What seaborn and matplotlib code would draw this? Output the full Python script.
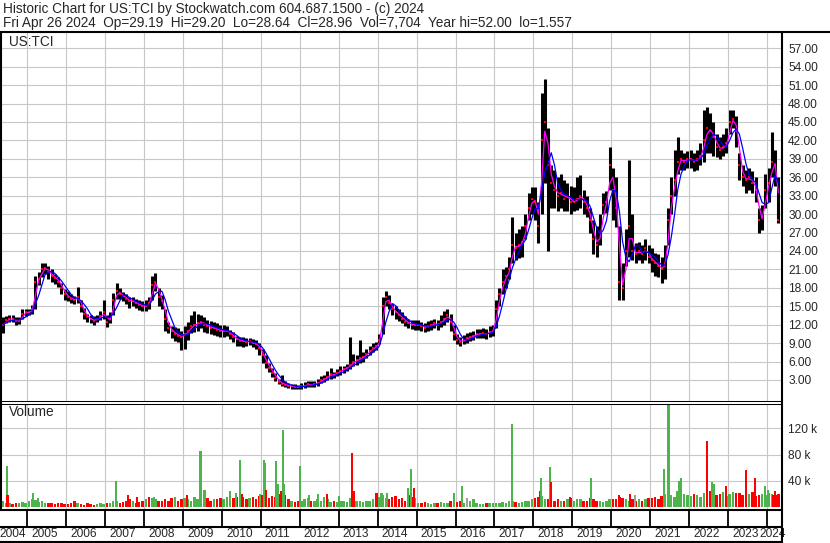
import numpy as np
import pandas as pd
import matplotlib
matplotlib.use("Agg")
import matplotlib.pyplot as plt
import seaborn as sns
from matplotlib.lines import Line2D

# Monthly price bars, May 2004 .. Apr 2024
month_close = [
    12.0, 12.8, 13.0, 12.9, 12.6, 12.6, 13.8, 14.0,                          # 2004 May-Dec
    14.0, 14.5, 19.0, 19.5, 21.0, 21.3, 20.5, 20.0, 19.6, 19.0, 18.0, 17.0,  # 2005
    16.5, 16.2, 16.0, 16.5, 15.0, 13.8, 13.2, 12.9, 12.6, 13.0, 13.4, 14.0,  # 2006
    12.5, 13.0, 16.0, 17.5, 17.0, 16.6, 16.2, 15.8, 15.8, 15.5, 15.2, 15.0,  # 2007
    15.0, 15.5, 18.5, 19.0, 16.5, 15.8, 13.0, 11.5, 11.0, 10.5, 10.2, 10.0,  # 2008
    10.5, 11.0, 11.8, 12.0, 12.2, 12.5, 12.0, 11.8, 11.5, 11.5, 11.2, 11.0,  # 2009
    11.0, 11.0, 10.5, 10.0, 9.6, 9.4, 9.3, 9.2, 9.3, 9.0, 8.8, 8.2,          # 2010
    7.0, 5.8, 5.0, 4.2, 3.3, 2.7, 2.4, 2.2, 2.0, 2.0, 1.9, 1.8,              # 2011
    2.0, 2.1, 2.3, 2.2, 2.3, 2.5, 3.0, 3.2, 3.5, 4.0, 3.8, 4.2,              # 2012
    4.5, 4.8, 5.0, 5.5, 6.0, 6.2, 6.5, 6.8, 7.2, 7.8, 8.2, 8.5,              # 2013
    9.5, 15.0, 16.5, 15.5, 14.5, 14.0, 13.5, 13.0, 12.5, 12.2, 12.0, 12.0,   # 2014
    12.0, 11.8, 11.5, 11.8, 12.0, 12.2, 12.0, 12.5, 13.0, 13.5, 12.5, 10.5,  # 2015
    9.5, 9.2, 9.5, 9.8, 10.0, 10.2, 10.5, 10.5, 10.6, 10.5, 10.8, 11.0,      # 2016
    14.5, 17.0, 19.0, 20.0, 21.0, 25.0, 24.5, 25.0, 25.5, 28.0, 31.0, 32.5,  # 2017
    32.0, 28.0, 42.0, 45.0, 38.0, 35.0, 34.0, 33.0, 33.5, 32.5, 33.0, 32.0,  # 2018
    32.0, 32.5, 33.0, 32.0, 31.0, 29.0, 26.0, 25.0, 27.0, 31.5, 32.0, 38.0,  # 2019
    34.0, 31.0, 19.0, 18.0, 24.0, 28.0, 24.0, 23.5, 24.0, 23.5, 24.5, 23.0,  # 2020
    22.5, 22.0, 21.5, 21.0, 22.0, 29.0, 33.0, 35.5, 38.5, 39.0, 38.5, 39.0,  # 2021
    39.0, 38.5, 39.0, 39.5, 42.0, 44.0, 43.5, 42.5, 41.0, 40.5, 41.0, 41.5,  # 2022
    45.0, 45.5, 43.5, 38.0, 36.0, 35.5, 36.0, 35.0, 34.0, 29.0, 29.5, 34.0,  # 2023
    35.0, 38.5, 38.0, 29.0,                                                  # 2024 Jan-Apr
]
month_low = [
    10.6, 12.2, 12.5, 12.4, 12.0, 12.1, 13.0, 13.4,
    13.5, 13.8, 14.5, 18.5, 19.8, 20.2, 19.5, 19.0, 18.6, 18.2, 17.0, 16.0,
    15.8, 15.6, 15.4, 15.5, 14.0, 13.0, 12.5, 12.3, 11.9, 12.4, 12.8, 13.0,
    11.6, 12.2, 13.5, 16.2, 16.2, 15.8, 15.3, 14.8, 15.0, 14.8, 14.4, 14.2,
    14.2, 14.5, 16.0, 17.5, 15.0, 14.5, 11.0, 10.6, 9.8, 9.4, 9.2, 7.9,
    8.0, 9.5, 10.6, 10.8, 11.0, 11.4, 10.8, 10.6, 10.5, 10.4, 10.2, 10.0,
    10.0, 10.2, 9.6, 9.2, 8.6, 8.6, 8.4, 8.5, 8.7, 8.3, 8.0, 7.0,
    5.8, 5.0, 4.3, 3.5, 2.8, 2.3, 2.0, 1.9, 1.7, 1.6, 1.6, 1.56,
    1.6, 1.7, 1.8, 1.8, 1.9, 2.0, 2.5, 2.7, 3.0, 3.2, 3.3, 3.6,
    3.8, 4.2, 4.4, 4.8, 5.2, 5.5, 5.8, 6.0, 6.5, 7.0, 7.6, 7.9,
    8.8, 10.5, 15.0, 14.5, 13.5, 13.0, 12.6, 12.2, 11.8, 11.5, 11.3, 11.2,
    11.2, 11.0, 10.8, 11.0, 11.2, 11.5, 11.2, 11.6, 12.0, 12.5, 11.0, 9.5,
    8.8, 8.5, 8.8, 9.0, 9.3, 9.5, 9.8, 9.8, 9.8, 9.7, 10.0, 10.2,
    11.5, 15.0, 17.0, 18.0, 19.5, 22.0, 22.5, 22.8, 23.0, 26.0, 29.0, 30.0,
    29.0, 25.3, 30.0, 35.0, 24.0, 31.0, 31.0, 30.5, 31.0, 30.5, 30.5, 30.0,
    30.5, 30.7, 31.0, 30.0, 29.5, 27.0, 23.5, 23.0, 25.0, 30.0, 30.2, 34.0,
    29.0, 27.9, 16.0, 16.0, 21.5, 23.0, 22.5, 22.0, 22.5, 22.0, 22.5, 22.0,
    20.5, 20.0, 19.8, 18.8, 19.5, 25.0, 30.0, 33.0, 36.5, 37.2, 37.2, 37.5,
    37.5, 37.0, 37.2, 38.0, 38.5, 40.0, 40.0, 39.5, 39.3, 39.0, 39.5, 40.0,
    43.0, 44.0, 41.0, 35.5, 34.5, 33.4, 34.0, 33.5, 32.0, 27.0, 27.4, 31.0,
    32.0, 36.0, 34.5, 28.6,
]
month_high = [
    13.2, 13.4, 13.6, 13.5, 13.2, 13.3, 14.5, 14.6,
    14.5, 15.2, 20.0, 20.6, 22.0, 22.1, 21.5, 21.0, 20.3, 19.8, 18.8, 17.8,
    17.5, 17.0, 16.6, 18.1, 16.0, 14.8, 13.8, 13.6, 13.4, 13.6, 14.2, 16.0,
    13.5, 14.0, 17.2, 18.8, 18.0, 17.4, 17.0, 16.5, 16.5, 16.2, 16.0, 15.8,
    16.0, 16.5, 20.0, 20.4, 18.0, 16.8, 14.5, 12.5, 11.8, 11.6, 11.4, 11.0,
    11.8, 12.5, 13.5, 14.3, 13.8, 13.6, 13.2, 12.8, 12.6, 12.4, 12.2, 12.0,
    12.0, 11.8, 11.2, 10.8, 10.2, 10.0, 10.0, 9.9, 9.9, 9.7, 9.5, 9.0,
    8.0, 7.0, 5.8, 5.0, 4.2, 3.2, 3.8, 2.8, 2.5, 2.4, 2.3, 2.2,
    2.5, 2.7, 2.9, 2.8, 2.8, 3.2, 3.6, 3.8, 4.4, 4.9, 4.3, 4.8,
    5.2, 5.3, 5.6, 10.0, 7.2, 7.0, 9.5, 7.5, 8.0, 8.6, 9.0, 9.2,
    10.5, 16.5, 17.5, 16.8, 15.5, 15.0, 14.5, 14.0, 13.4, 13.0, 12.8, 12.8,
    12.8, 12.5, 12.2, 12.6, 12.8, 13.0, 12.8, 13.5, 14.2, 14.5, 13.8, 12.0,
    10.5, 10.0, 10.3, 10.6, 10.8, 11.0, 11.3, 11.3, 11.5, 11.3, 11.8, 12.0,
    16.0, 18.0, 21.0, 21.4, 23.0, 29.5, 27.0, 27.5, 28.0, 30.0, 33.5, 34.4,
    34.4, 32.0, 49.7, 52.0, 44.0, 38.0, 37.2, 36.0, 36.5, 35.5, 35.0, 34.5,
    34.4, 36.0, 36.3, 34.0, 33.0, 31.0, 29.0, 28.0, 30.0, 33.4, 33.8, 41.0,
    37.5, 36.0, 28.0, 22.0, 27.5, 38.8, 30.0, 25.3, 25.5, 25.0, 26.0, 25.0,
    24.5, 23.7, 23.5, 23.0, 25.0, 31.0, 36.0, 40.4, 42.6, 40.4, 40.0, 40.3,
    40.4, 40.0, 40.5, 41.5, 47.0, 47.5, 46.5, 45.0, 43.0, 42.6, 43.0, 44.0,
    47.0, 47.0, 46.0, 40.0, 38.0, 37.2, 37.5, 37.0, 36.0, 31.0, 31.5, 36.5,
    37.5, 43.4, 40.5, 36.0,
]
# typical daily volume per month, thousands
month_volume = [
    9, 7, 6, 5, 7, 6, 8, 7,
    9, 13, 11, 8, 9, 6, 7, 6, 5, 7, 6, 5,
    5, 6, 9, 7, 5, 4, 6, 5, 4, 5, 6, 5,
    6, 7, 10, 9, 7, 8, 10, 12, 9, 7, 8, 9,
    12, 10, 14, 12, 9, 10, 13, 9, 14, 12, 10, 13,
    14, 12, 10, 16, 13, 15, 12, 14, 10, 12, 13, 14,
    13, 15, 17, 14, 16, 14, 15, 13, 14, 16, 12, 17,
    18, 16, 14, 17, 15, 20, 16, 18, 12, 9, 8, 10,
    9, 12, 14, 9, 10, 13, 10, 15, 12, 8, 9, 8,
    9, 10, 8, 14, 12, 10, 9, 8, 10, 9, 12, 14,
    16, 18, 14, 13, 15, 17, 12, 14, 10, 18, 16, 14,
    7, 6, 8, 6, 5, 7, 6, 8, 6, 7, 9, 7,
    8, 10, 7, 6, 9, 12, 6, 5, 5, 6, 7, 6,
    6, 7, 8, 7, 9, 10, 8, 7, 8, 9, 10, 12,
    14, 16, 17, 13, 12, 10, 9, 12, 10, 9, 12, 14,
    10, 12, 13, 9, 10, 14, 12, 10, 9, 8, 10, 12,
    12, 13, 16, 14, 12, 10, 13, 9, 12, 10, 13, 14,
    14, 16, 13, 17, 20, 22, 18, 16, 17, 15, 18, 19,
    17, 20, 18, 16, 22, 19, 25, 21, 18, 20, 23, 17,
    20, 23, 18, 22, 19, 25, 20, 24, 17, 19, 21, 18,
    22, 20, 25, 21,
]

# big volume days: date (year fraction), volume (k), up/down
spike_date = [2004.47, 2004.49, 2005.15, 2005.28, 2007.27, 2007.58, 2007.81, 2008.13,
              2008.25, 2008.80, 2009.10, 2009.45, 2009.55, 2010.20, 2010.36, 2010.46,
              2010.52, 2010.98, 2011.08, 2011.11, 2011.14, 2011.38, 2011.45, 2011.53,
              2011.56, 2011.60, 2012.00, 2012.24, 2012.47, 2012.69, 2013.00, 2013.34,
              2013.38, 2013.97, 2014.10, 2014.25, 2014.77, 2014.85, 2014.93, 2015.95,
              2016.16, 2016.30, 2017.44, 2018.16, 2018.19, 2018.42, 2018.45, 2018.94,
              2019.48, 2020.20, 2020.48, 2020.60, 2021.35, 2021.47, 2021.68, 2021.73,
              2021.80, 2021.86, 2022.45, 2022.58, 2022.64, 2022.95, 2023.20, 2023.47,
              2023.69, 2023.94, 2024.03, 2024.15, 2024.25]
spike_volume = [62, 19, 22, 14, 40, 18, 16, 16,
                15, 15, 18, 85, 27, 25, 22, 72,
                21, 21, 72, 68, 27, 70, 36, 25,
                117, 36, 62, 18, 21, 20, 17, 82,
                25, 22, 22, 22, 30, 58, 30, 22,
                33, 14, 126, 25, 45, 61, 38, 15,
                45, 19, 21, 19, 58, 165, 25, 40,
                45, 21, 100, 38, 35, 33, 22, 57,
                45, 33, 27, 19, 19]
spike_dir = ["up", "down", "up", "up", "up", "down", "down", "down",
             "up", "up", "down", "up", "up", "up", "up", "up",
             "down", "up", "up", "up", "down", "up", "up", "down",
             "up", "up", "up", "up", "up", "down", "up", "down",
             "down", "down", "up", "up", "up", "up", "down", "up",
             "up", "flat", "up", "down", "up", "up", "down", "down",
             "up", "down", "down", "flat", "up", "up", "up", "up",
             "up", "up", "down", "up", "up", "down", "down", "down",
             "down", "up", "up", "down", "down"]

price_ticks = list(range(3, 58, 3))
volume_ticks = [40, 80, 120]
years = list(range(2004, 2025))

months = pd.period_range("2004-05", "2024-04", freq="M")
df = pd.DataFrame({
    "t": months.year + (months.month - 0.5) / 12,
    "close": month_close,
    "low": month_low,
    "high": month_high,
    "volume": month_volume,
})
df["ma_fast"] = df["close"].rolling(2, min_periods=1).mean()
df["ma_slow"] = df["close"].rolling(4, min_periods=1).mean()
df["dir"] = np.where(df["close"].diff().fillna(0) >= 0, "up", "down")

spikes = pd.DataFrame({"t": spike_date, "volume": spike_volume, "dir": spike_dir})

vol_colors = {"up": "#4db34d", "down": "#ff0000", "flat": "#a0a0a0"}

sns.set_style("white")
plt.rcParams["font.family"] = ["Liberation Sans", "DejaVu Sans"]
plt.rcParams["font.size"] = 8.6
title_size = 9.8

W, H = 830, 543
fig = plt.figure(figsize=(W / 100, H / 100), dpi=100)


def box(x0, y0, x1, y1):
    return [x0 / W, 1 - y1 / H, (x1 - x0) / W, (y1 - y0) / H]


def hline(y, x0, x1, lw):
    fig.add_artist(Line2D([x0 / W, x1 / W], [1 - y / H, 1 - y / H], color="black", lw=lw,
                          transform=fig.transFigure, solid_capstyle="butt"))


def vline(x, y0, y1, lw):
    fig.add_artist(Line2D([x / W, x / W], [1 - y0 / H, 1 - y1 / H], color="black", lw=lw,
                          transform=fig.transFigure, solid_capstyle="butt"))


x_min, x_max = 2004.35, 2024.373

ax_p = fig.add_axes(box(2, 32, 781.5, 401))
ax_v = fig.add_axes(box(2, 403.5, 781.5, 509))
ax_y = fig.add_axes(box(2, 509, 781.5, 542))

# price panel
ax_p.vlines(df["t"], df["low"], df["high"], color="black", lw=2.2, zorder=2)
sns.scatterplot(data=df, x="t", y="close", marker="s", s=4, color="#ff0000",
                linewidth=0, ax=ax_p, zorder=3)
sns.lineplot(data=df, x="t", y="ma_fast", color="#ff00ff", lw=0.9, ax=ax_p, zorder=4)
sns.lineplot(data=df, x="t", y="ma_slow", color="#0000ff", lw=0.9, ax=ax_p, zorder=5)
ax_p.set_ylim(-0.42, 59.65)
ax_p.set_yticks(price_ticks)
ax_p.set_yticklabels([f"{v:.2f}" for v in price_ticks])
ax_p.text(7 / 779.5, 1 - 3 / 369, "US:TCI", transform=ax_p.transAxes, va="top", ha="left",
          fontsize=title_size)

# volume panel
ax_v.bar(df["t"], df["volume"], width=0.75 / 12, color=[vol_colors[d] for d in df["dir"]],
         linewidth=0, zorder=2)
ax_v.bar(spikes["t"], spikes["volume"], width=0.055,
         color=[vol_colors[d] for d in spikes["dir"]], linewidth=0, zorder=3)
ax_v.set_ylim(-2.5, 157.6)
ax_v.set_yticks(volume_ticks)
ax_v.set_yticklabels([f"{v} k" for v in volume_ticks])
ax_v.text(7 / 779.5, 1 - 2 / 105.5, "Volume", transform=ax_v.transAxes, va="top", ha="left",
          fontsize=title_size)

for ax in (ax_p, ax_v):
    ax.set_xlim(x_min, x_max)
    ax.set_xticks(years[1:])
    ax.set_xlabel("")
    ax.set_ylabel("")
    ax.yaxis.tick_right()
    ax.tick_params(axis="both", length=0, labelbottom=False, labelleft=False,
                   labelright=True, labelsize=8.6, pad=4.8)
    ax.grid(True, color="#c8c8c8", lw=0.8)
    ax.set_axisbelow(True)
    for s in ax.spines.values():
        s.set_visible(False)

# year strip
ax_y.set_xlim(x_min, x_max)
ax_y.set_ylim(0, 1)
ax_y.axis("off")
ax_y.vlines(years[1:], 0.47, 1.0, color="black", lw=1.3)
for yr in years:
    if yr == 2004:
        ax_y.text(2005 - 1.3 / 38.93, 0.24, str(yr), ha="right", va="center", clip_on=False)
    elif yr == 2024:
        ax_y.text(2024 - 7.7 / 38.93, 0.24, str(yr), ha="left", va="center", clip_on=False)
    else:
        ax_y.text(yr + 4 / 38.93, 0.24, str(yr), ha="left", va="center")

# frame lines
hline(31.5, 0, 830, 1.5)
vline(1, 31, 510, 1.5)
vline(782, 31, 543, 1.5)
hline(401, 0, 782, 0.75)
hline(403.5, 0, 782, 0.75)
hline(509.5, 0, 782, 1.5)
hline(526.5, 0, 782, 1.5)
hline(541.5, 0, 782, 1.5)

fig.text(3 / W, 1 - 1.5 / H, "Historic Chart for US:TCI by Stockwatch.com 604.687.1500 - (c) 2024",
         ha="left", va="top", fontsize=title_size)
fig.text(3 / W, 1 - 16.5 / H,
         "Fri Apr 26 2024  Op=29.19  Hi=29.20  Lo=28.64  Cl=28.96  Vol=7,704  Year hi=52.00  lo=1.557",
         ha="left", va="top", fontsize=title_size)

fig.savefig("out.png", dpi=100)
